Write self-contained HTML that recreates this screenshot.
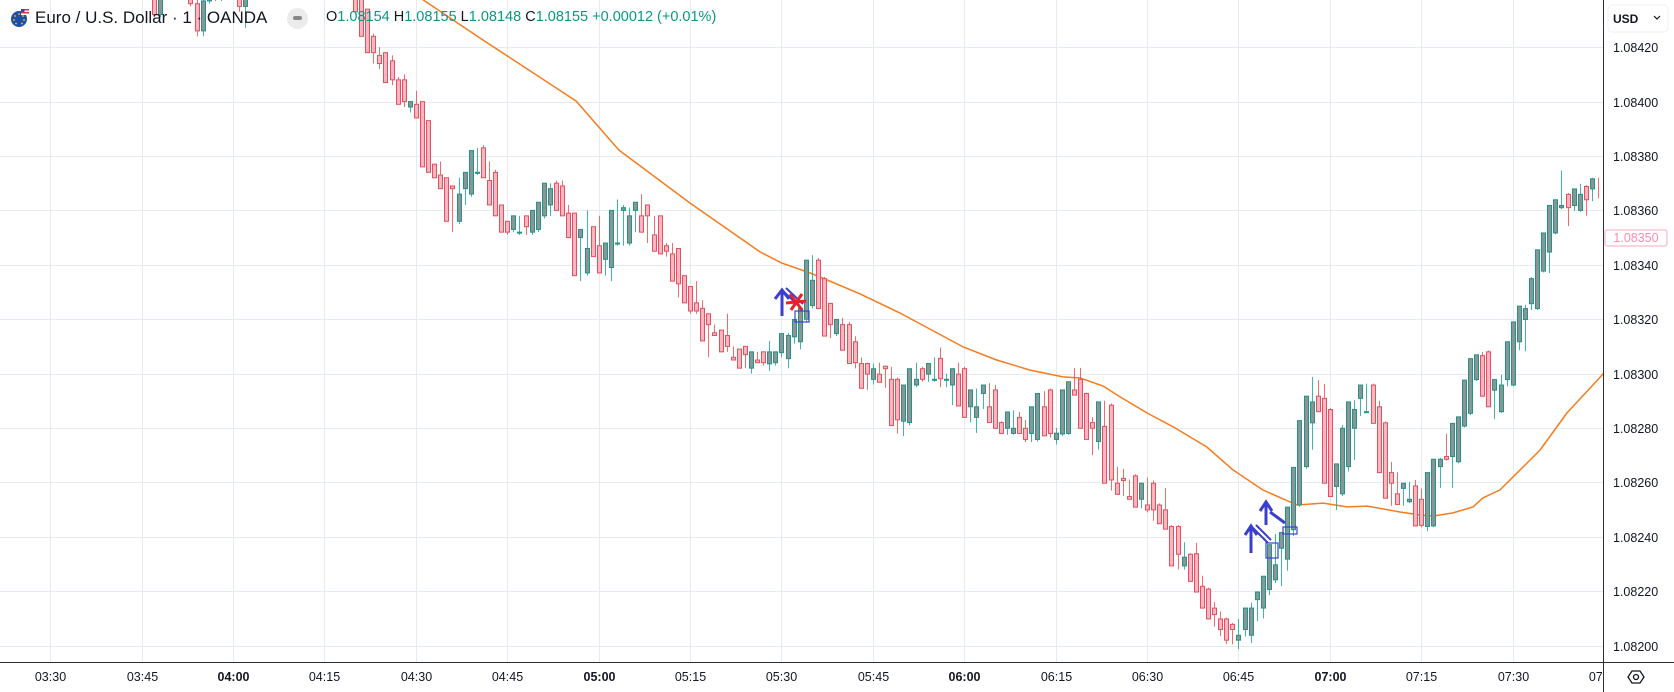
<!DOCTYPE html>
<html><head><meta charset="utf-8">
<style>
html,body{margin:0;padding:0;background:#fff;}
body{width:1674px;height:692px;overflow:hidden;position:relative;font-family:"Liberation Sans",sans-serif;}
#chart{position:absolute;left:0;top:0;}
.hdr{position:absolute;top:8px;left:0;height:20px;display:flex;align-items:center;white-space:nowrap;}
</style></head><body>
<svg id="chart" width="1674" height="692" xmlns="http://www.w3.org/2000/svg">
  <g id="grid"></g>
  <g id="ema"></g>
  <g id="candles"></g>
  <g id="annot">
    <g stroke="#3b3fd0" stroke-width="3" fill="none">
      <line x1="782" y1="316" x2="782" y2="291"/><polyline points="775,299 782,290 789,299"/>
    </g>
    <g stroke="#3b3fd0" stroke-width="2">
      <line x1="783" y1="291" x2="800" y2="307"/><line x1="786" y1="288" x2="803" y2="304"/>
    </g>
    <g stroke="#e8222a" stroke-width="3">
      <line x1="786" y1="303" x2="806" y2="301"/><line x1="790" y1="294" x2="802" y2="310"/><line x1="802" y1="294" x2="791" y2="310"/>
    </g>
    <rect x="795" y="311" width="14" height="11" fill="none" stroke="#3b3fd0" stroke-width="1.2"/>
    <g stroke="#3b3fd0" stroke-width="3" fill="none">
      <line x1="1251" y1="553" x2="1251" y2="527"/><polyline points="1245,535 1251,526 1257,535"/>
    </g>
    <g stroke="#3b3fd0" stroke-width="2">
      <line x1="1253" y1="528" x2="1268" y2="543"/><line x1="1256" y1="525" x2="1271" y2="540"/>
    </g>
    <rect x="1266" y="543" width="12" height="15" fill="none" stroke="#3b3fd0" stroke-width="1.2"/>
    <g stroke="#3b3fd0" stroke-width="3" fill="none">
      <line x1="1266" y1="525" x2="1266" y2="503"/><polyline points="1260,511 1266,502 1272,511"/>
    </g>
    <line x1="1270" y1="512" x2="1285" y2="523" stroke="#3b3fd0" stroke-width="3"/>
    <rect x="1283" y="527" width="14" height="7" fill="none" stroke="#3b3fd0" stroke-width="1.2"/>
  </g>
  <rect x="1604" y="0" width="70" height="692" fill="#fff"/>
  <rect x="0" y="663" width="1674" height="29" fill="#fff"/>
  <g id="yaxis"></g>
  <g id="xaxis"></g>
  <line x1="1603.5" y1="0" x2="1603.5" y2="692" stroke="#2a2e39" stroke-width="1"/>
  <line x1="0" y1="662.5" x2="1674" y2="662.5" stroke="#2a2e39" stroke-width="1"/>
  <g>
    <rect x="1605" y="230" width="62" height="16" rx="2" fill="#fff" stroke="#f7a9b8"/>
    <text x="1636" y="242" text-anchor="middle" font-size="12.5" fill="#f48fb1" font-family="Liberation Sans, sans-serif">1.08350</text>
  </g>
  <g>
    <rect x="1608" y="5" width="60" height="27" rx="4" fill="#fff" stroke="#eef0f3"/>
    <text x="1613" y="23" font-size="12" font-weight="bold" fill="#131722" font-family="Liberation Sans, sans-serif">USD</text>
    <polyline points="1654,16 1657,19 1660,16" fill="none" stroke="#131722" stroke-width="1.2"/>
  </g>
  <g fill="none" stroke="#131722" stroke-width="1.3">
    <polygon points="1628,677 1632,671 1640,671 1644,677 1640,683 1632,683"/>
    <circle cx="1636" cy="677" r="2.5"/>
  </g>
</svg>

<div class="hdr">
  <svg width="20" height="20" style="position:absolute;left:9px;top:0">
    <circle cx="10" cy="11" r="8" fill="#1d4fa8"/>
    <g fill="#f5d000"><circle cx="10" cy="6" r="0.9"/><circle cx="14" cy="8" r="0.9"/><circle cx="15" cy="12" r="0.9"/><circle cx="13" cy="15.5" r="0.9"/><circle cx="7" cy="15.5" r="0.9"/><circle cx="5" cy="12" r="0.9"/><circle cx="6" cy="8" r="0.9"/></g>
    <rect x="12" y="1" width="8" height="6" fill="#fff"/><rect x="12" y="1" width="8" height="1.5" fill="#d8383f"/><rect x="12" y="4" width="8" height="1.5" fill="#d8383f"/><rect x="12" y="1" width="3.5" height="3" fill="#2c4aa0"/>
  </svg>
  <span style="position:absolute;left:35px;top:0px;font-size:17px;color:#131722;">Euro / U.S. Dollar · 1 · OANDA</span>
  <span style="position:absolute;left:287px;top:0;width:21px;height:21px;border-radius:50%;background:#ebebeb;"><span style="position:absolute;left:6px;top:8px;width:9px;height:4px;border-radius:2px;background:#888;"></span></span>
  <span style="position:absolute;left:326px;top:1px;font-size:14.5px;color:#089981;">
    <span style="color:#131722">O</span>1.08154 <span style="color:#131722">H</span>1.08155 <span style="color:#131722">L</span>1.08148 <span style="color:#131722">C</span>1.08155 +0.00012 (+0.01%)
  </span>
</div>

<script>
// price values in pipettes above 1.08000 (price = 1.08 + v / 100000)
const startMinute = 225; // 03:45
const opens = [448,446,444,432,441,443,446,447,443,436,426,437,440,438,443,445,439,435,442,447,450,452,450,448,449,447,446,448,446,444,445,443,444,442,443,442,440,434,424,417,418,415,408,408,398,399,400,393,377,373,372,369,356,368,366,374,383,371,374,362,356,353,352,358,352,353,358,362,370,369,359,359,350,337,354,347,342,339,348,360,348,360,358,362,351,358,347,344,346,336,332,326,324,322,315,316,314,306,309,310,302,305,308,303.6,304,307.7,305.5,313.5,311.7,320,325,341.7,334.9,325.8,314.7,318,318,311.7,303.7,303.7,297.9,299.8,302.7,297.9,297.9,282.5,282,295.8,301.8,299.8,297.9,305.6,297.9,295.8,299.8,301.8,287.8,283.9,292.7,287.8,294,282,279.9,278,283.9,279.9,278,275.8,287.8,294,275.8,277.8,278,294,297.9,292.7,282,275,280.6,288.4,259.7,261.5,254.8,262.4,253.8,251.7,259.7,251.7,249.9,243.8,243.8,229.3,233.6,233.8,221.8,220.8,213.8,209.8,209.8,207.8,202,205.9,203.8,216.9,213.8,220.6,224.2,235.8,231.8,242.6,251.7,265.8,281.9,291.7,290.9,286.8,258.5,255.8,265.8,279.9,290.9,286,295.8,287.8,281.9,263.6,255.8,257.8,252.9,258.7,253.8,243.8,244,265.8,269.5,269.5,267.6,280.7,285.4,297.8,306.6,308,293.9,286,297.8,295.8,311.7,319.9,325.7,323.9,337.7,344.7,351.7,361,365.9,361.8,360,368.8,367.9,364.9];
const highs = [450,448,446,442,445,447,449,449,444,440,438,441,443,444,447,446,441,443,448,452,454,455,453,451,452,450,449,451,448,447,447,446,446,445,444,444,442,434,425,420,418,417,409,410,400,404,400,393,377,378,372,369,372,368,376,383,384,378,375,362,356,358,358,358,355.5,362,363,370,371,371,362,359,350,360,354,358,342,348,364,362,361,360,366,362,358,358,348,348,346,336,332,334,327,322,318,316,322,310,309,310,307,308,308,312,308,313.5,315,316,320,327,343.5,342.5,335.5,326,319,320.5,319,313.8,305.9,304,303.7,304,303,302.5,298.5,283.5,296,304,302.5,301.8,305.9,309.6,300,298.5,304,302.5,288.5,294.5,293.5,296.5,295.8,282.5,281.8,286.5,285.9,282.9,278.5,288.5,293.5,294.5,280,282.9,294.5,302.1,302.1,293,284,280.5,290,289,265.7,265,261,263,257.9,261.8,260.7,252.3,257.9,244.3,244.3,238,234,237.8,225.7,221.3,216,212.5,210.3,208.3,209.8,206.4,215.8,220,222.8,229,241,240,245.8,251.5,274.6,283.2,298.8,297.6,296.2,287.3,260,281.1,284.4,290.2,291.4,296.3,296.3,290,282.4,267.5,263.8,258.3,260.2,260.9,257.7,253.8,264,269,277.9,273,282.2,290,299,306,308,308.5,296,299.6,302.7,314.7,320.5,325.3,335.5,338,351.8,354.7,362.3,374.7,366.4,363.9,369.8,369.3,372,372];
const lows = [445,443,431,431,439,441,444,442,435,424,424,436,437,437,441,438,433,427,441,445,448,449,447,445,446,444,443,445,442,441,442,440,441,439,438,438,432,423,414,412,412,406,407,398,396,394,391,375,372,371,367,352,355,362,365,373,372,370,361,357,351,352,351,351,351,352,357,358,367,359,357,349,334,336,344,342,336,334,347,347,347,352,357,348,350,344,343,342,328,332,322,322,322,306,314,310,308,305,304,302,300,305,303,301,303,306,301.9,311,308.9,319,324,328.8,323,313,313.8,313,308,301.9,302,294,296,299,294.8,294.8,278,277,281,295,297,297,297,295,295,288.4,299,285,282,278.2,287,282,281.5,278,277.5,277.5,279,274.8,274.8,275,287,276.5,274,277,277.5,293.5,290,279.5,270,272,280,257,256,255,254,252,250.5,249,245.9,247.9,244.5,242,228,228,224.8,223,218,213.5,207,203.5,200.6,200.5,198.7,203.3,201,209,210,218.5,223,221.9,227.5,240.3,251,265,272,289,280.7,257,249.9,255,264,268.3,284.4,285.5,283.2,281.2,263,251.4,254,251.4,252.4,253.3,243.5,242,243.5,258,268,258,267,280.2,284.8,297.3,301,291,283.2,285.5,295.3,295.3,308.6,308.2,323.4,323.4,337.2,337,351.2,360.5,354.2,359.8,359.5,358.1,363.4,364.4];
const closes = [446,444,432,441,443,446,447,443,436,426,437,440,438,443,445,439,435,442,447,450,452,450,448,449,447,446,448,446,444,445,443,444,442,443,440,433,424,418,418,414,407,408,399,400,400,394,376,374,372,368,356,368,366,374,382,374,372,362,358,352,352,358,352,354,360,363,370,368,360,358,350,336,353,346,343,337,348,360,348,361,358,363,352,358,345,344,345,334,333,326,323,323,312,318,314,308,310,305,302,307,308,304,304,308,308,314.7,314,319.9,324,341.7,334.3,323.9,313.8,318,319.9,308.6,303.7,304,294.6,299.8,301.8,296.8,301.8,280.9,283,295.8,301.8,297.9,297.9,303.7,297.9,298.1,297.9,301.8,288.1,283.9,294,287.8,295.8,282,279.9,278,285.9,279.9,278,275.8,287.8,292.7,277.1,278,278.1,294,297,292.1,279.9,275.8,279.9,289.6,259.7,260.9,255.6,260.7,253.8,250.9,259.7,249.9,249.9,244.8,242.8,229.3,233.6,232.5,223.6,219.7,213.8,209.8,211.4,205.9,202,205.9,203.8,213.8,213.8,219.7,225.5,237.1,229.7,241.6,250.9,265.5,282.7,291.7,289.6,286,259.7,254.8,266.8,279.9,289.6,286.8,295.8,286,281.7,263.6,254.2,259.7,251.9,259.7,253.8,244,244.2,263.6,268.5,268.5,268.5,281.7,284.1,297.6,305.5,306.9,291.7,287.8,297.8,295.8,311.7,319,324.8,323.9,334.9,345.5,351.7,361.8,363.9,361.8,361,367.9,365.9,363.9,371.6];
// moving average (v units) sampled at minutes
const emaMinutes = [262,271.2,280.5,296.3,303.3,315,326.5,330,334.7,337.5,342.9,349.4,359.8,365.3,370.8,376.2,379,382.8,385.6,390,394.3,399.8,404.1,409,414.6,418.9,422.8,426.1,431.5,434.8,436.9,440.2,443.5,445.1,447.9,454.5,458.9,464.4,466];
const emaValues = [452,437.4,423.4,400.2,382.2,362.7,344.7,340.7,337,334.4,329.3,322.3,309.8,305,301.3,298.8,298.4,295.4,291.4,285.5,280.4,273,264.6,257.2,251.7,252.4,251,251.3,249.1,248,247.6,248.8,251,254.3,257.2,271.9,285.5,298.8,303];
const priceTicks = [1.0842,1.084,1.0838,1.0836,1.0834,1.0832,1.083,1.0828,1.0826,1.0824,1.0822,1.082];
const timeTickMinutes = [210,225,240,255,270,285,300,315,330,345,360,375,390,405,420,435,450,465];
const timeTickLabels = ["03:30","03:45","04:00","04:15","04:30","04:45","05:00","05:15","05:30","05:45","06:00","06:15","06:30","06:45","07:00","07:15","07:30","07:45"];

const NS = "http://www.w3.org/2000/svg";
function xOf(t){ return 141.7 + (t - 225) * 6.0933; }
function yOfV(v){ return 156 + (380 - v) * 2.72; }
function yOfP(p){ return yOfV((p - 1.08) * 100000); }
function mk(tag, attrs, parent){ const e = document.createElementNS(NS, tag); for (const k in attrs) e.setAttribute(k, attrs[k]); parent.appendChild(e); return e; }

const grid = document.getElementById('grid');
const yaxis = document.getElementById('yaxis');
const xaxis = document.getElementById('xaxis');
priceTicks.forEach(function(p){
  const y = Math.round(yOfP(p)) + 0.5;
  const gl = mk('line', {x1:0, x2:1603, y1:y, y2:y, stroke:'#e6ebf1', 'stroke-width':1}, grid);
  
  
  const tx = mk('text', {x:1613, y:y+4.5, 'font-size':12.5, fill:'#131722', 'font-family':'Liberation Sans, sans-serif'}, yaxis);
  tx.textContent = p.toFixed(5);
  
  
});
timeTickMinutes.forEach(function(t, i){
  const x = Math.round(xOf(t)) + 0.5;
  if (x < 1603) {
    const gl = mk('line', {x1:x, x2:x, y1:0, y2:662, stroke:'#e6ebf1', 'stroke-width':1}, grid);
    
    
  }
  const bold = timeTickLabels[i].endsWith(':00');
  const tx = mk('text', {x:x, y:681, 'text-anchor':'middle', 'font-size':12.5, 'font-weight': bold ? 'bold' : 'normal', fill:'#131722', 'font-family':'Liberation Sans, sans-serif'}, xaxis);
  tx.textContent = timeTickLabels[i];
  
  
});
const clipDefs = mk('defs', {}, document.getElementById('chart'));
const cp = mk('clipPath', {id:'plotclip'}, clipDefs);
mk('rect', {x:0, y:0, width:1603, height:662}, cp);
const xcp = mk('clipPath', {id:'xclip'}, clipDefs);
mk('rect', {x:0, y:663, width:1603, height:29}, xcp);
xaxis.setAttribute('clip-path', 'url(#xclip)');

const emaG = document.getElementById('ema');
emaG.setAttribute('clip-path', 'url(#plotclip)');
let d = '';
emaMinutes.forEach(function(t, i){ d += (i ? 'L' : 'M') + xOf(t).toFixed(1) + ' ' + yOfV(emaValues[i]).toFixed(1); });
const emaPath = mk('path', {d:d, fill:'none', stroke:'#f57c1f', 'stroke-width':1.5, 'stroke-linejoin':'round'}, emaG);



const cg = document.getElementById('candles');
cg.setAttribute('clip-path', 'url(#plotclip)');
opens.forEach(function(o, i){
  const c = closes[i], h = highs[i], l = lows[i];
  const x = xOf(startMinute + i);
  const up = c >= o;
  const g = mk('g', {}, cg);
  
  
  const xc = Math.round(x) + 0.5;
  mk('line', {x1:xc, x2:xc, y1:yOfV(h), y2:yOfV(l), stroke: up ? '#26a69a' : '#ef5350', 'stroke-width':1, 'stroke-opacity':0.85}, g);
  const yt = yOfV(Math.max(o, c)), yb = yOfV(Math.min(o, c));
  mk('rect', {x:xc - 2, y:yt, width:4, height:Math.max(1, yb - yt), fill: up ? '#8c9494' : '#f7b6c2', stroke: up ? '#1f9488' : '#e5505c', 'stroke-width':1}, g);
});
</script>
</body></html>
